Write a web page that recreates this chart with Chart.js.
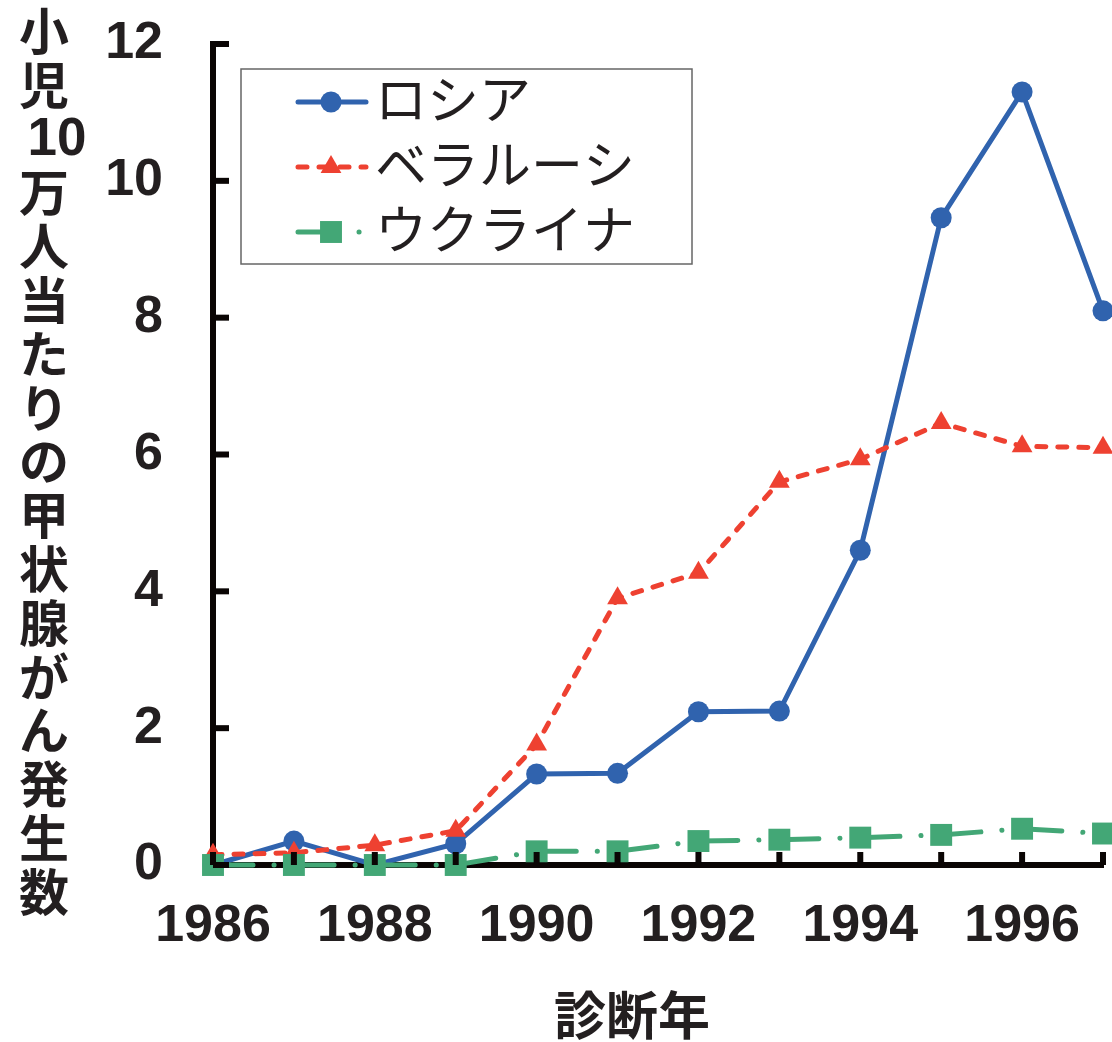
<!DOCTYPE html>
<html>
<head>
<meta charset="utf-8">
<script src="https://cdn.jsdelivr.net/npm/chart.js@4/dist/chart.umd.min.js"></script>
<style>
  html, body { margin: 0; padding: 0; background: #fff; }
  canvas { display: block; }
</style>
</head>
<body>
<canvas id="thyroidChart" width="1112" height="1042"></canvas>
<script>
var years = ['1986', '1987', '1988', '1989', '1990', '1991', '1992', '1993', '1994', '1995', '1996', '1997'];
var russia = [0, 0.35, 0, 0.31, 1.33, 1.34, 2.24, 2.25, 4.6, 9.46, 11.3, 8.1];
var belarus = [0.15, 0.18, 0.29, 0.5, 1.76, 3.9, 4.27, 5.6, 5.93, 6.46, 6.12, 6.1];
var ukraine = [0, 0, 0, 0, 0.2, 0.2, 0.35, 0.37, 0.4, 0.44, 0.53, 0.46];
var seriesNames = ['ロシア', 'ベラルーシ', 'ウクライナ'];
var yTitle = ['小', '児', '10', '万', '人', '当', 'た', 'り', 'の', '甲', '状', '腺', 'が', 'ん', '発', '生', '数'];
var xTitle = '診断年';

var textColor = '#231f20';
var axisColor = '#0a0504';
var latin = "'Liberation Sans', Arial, sans-serif";
var cjk = "'Noto Sans CJK JP', sans-serif";

var datasets = [
  {
    label: seriesNames[0],
    data: russia,
    borderColor: '#3063ae',
    backgroundColor: '#3063ae',
    borderWidth: 5,
    pointStyle: 'circle',
    pointRadius: 10.5,
    order: 3
  },
  {
    label: seriesNames[1],
    data: belarus,
    borderColor: '#ee4131',
    backgroundColor: '#ee4131',
    borderWidth: 5,
    borderDash: [9, 12],
    borderCapStyle: 'round',
    pointStyle: 'triangle',
    pointRadius: 12,
    order: 2
  },
  {
    label: seriesNames[2],
    data: ukraine,
    borderColor: '#43a776',
    backgroundColor: '#43a776',
    borderWidth: 5,
    borderDash: [40, 21, 0.1, 20],
    borderCapStyle: 'round',
    pointStyle: 'rect',
    pointRadius: 15.5,
    order: 1
  }
];
datasets.forEach(function(d) {
  d.pointBorderWidth = 0;
  d.pointHoverRadius = d.pointRadius;
  d.tension = 0;
  d.clip = false;
});

function noScalePadding(s) {
  s.paddingTop = 0;
  s.paddingBottom = 0;
  s.paddingLeft = 0;
  s.paddingRight = 0;
}

// inner tick marks, legend box and axis titles
var decorPlugin = {
  id: 'decor',
  afterDatasetsDraw: function(chart) {
    var ctx = chart.ctx;
    var xs = chart.scales.x, ys = chart.scales.y;
    var area = chart.chartArea;
    ctx.save();
    ctx.strokeStyle = axisColor;
    ctx.lineWidth = 6;
    ctx.lineCap = 'butt';
    ys.ticks.forEach(function(t) {
      var py = ys.getPixelForValue(t.value);
      ctx.beginPath();
      ctx.moveTo(area.left, py);
      ctx.lineTo(area.left + 16, py);
      ctx.stroke();
    });
    years.forEach(function(y, i) {
      var px = xs.getPixelForValue(i);
      ctx.beginPath();
      ctx.moveTo(px, area.bottom);
      ctx.lineTo(px, area.bottom - 13);
      ctx.stroke();
    });

    // legend
    ctx.fillStyle = '#fff';
    ctx.fillRect(241, 69, 451, 195);
    ctx.strokeStyle = '#666';
    ctx.lineWidth = 1.5;
    ctx.strokeRect(241, 69, 451, 195);
    datasets.forEach(function(d, i) {
      var cy = 102 + i * 65;
      ctx.save();
      ctx.strokeStyle = d.borderColor;
      ctx.lineWidth = d.borderWidth;
      ctx.lineCap = 'round';
      ctx.setLineDash(d.borderDash || []);
      ctx.beginPath();
      ctx.moveTo(298, cy);
      ctx.lineTo(366, cy);
      ctx.stroke();
      ctx.restore();
      ctx.fillStyle = d.backgroundColor;
      Chart.helpers.drawPoint(ctx, {
        pointStyle: d.pointStyle,
        radius: d.pointRadius,
        borderWidth: 0,
        rotation: 0
      }, 331, cy);
      ctx.fillStyle = textColor;
      ctx.font = '400 52px ' + cjk;
      ctx.textAlign = 'left';
      ctx.textBaseline = 'middle';
      ctx.fillText(d.label, 375, cy - 3);
    });

    // y title, stacked vertically
    ctx.fillStyle = textColor;
    ctx.textAlign = 'center';
    ctx.textBaseline = 'middle';
    yTitle.forEach(function(ch, i) {
      var cy = 31 + i * 53.8;
      if (/^[0-9]+$/.test(ch)) {
        ctx.font = 'bold 53px ' + latin;
        ctx.fillText(ch, 57, cy + 2);
      } else {
        ctx.font = 'bold 50px ' + cjk;
        ctx.fillText(ch, 44, cy);
      }
    });

    // x title
    ctx.font = 'bold 52px ' + cjk;
    ctx.fillText(xTitle, 632, 1015);
    ctx.restore();
  }
};

new Chart(document.getElementById('thyroidChart'), {
  type: 'line',
  data: { labels: years, datasets: datasets },
  options: {
    responsive: false,
    animation: false,
    devicePixelRatio: 1,
    layout: { autoPadding: false, padding: { top: 44, right: 9, bottom: 0, left: 0 } },
    plugins: { legend: { display: false }, tooltip: { enabled: false } },
    scales: {
      x: {
        type: 'category',
        offset: false,
        grid: { display: false, drawTicks: false },
        border: { display: true, color: axisColor, width: 6 },
        ticks: {
          autoSkip: false,
          maxRotation: 0,
          padding: 30,
          color: textColor,
          font: { family: latin, size: 52, weight: 'bold' },
          callback: function(v, i) { return Number(years[i]) % 2 === 0 ? years[i] : ''; }
        },
        afterFit: function(s) { s.height = 177; noScalePadding(s); }
      },
      y: {
        min: 0,
        max: 12,
        grid: { display: false, drawTicks: false },
        border: { display: true, color: axisColor, width: 6 },
        ticks: {
          stepSize: 2,
          padding: 50,
          color: textColor,
          font: { family: latin, size: 52, weight: 'bold' }
        },
        afterFit: function(s) { s.width = 213; noScalePadding(s); }
      }
    }
  },
  plugins: [decorPlugin]
});
</script>
</body>
</html>
